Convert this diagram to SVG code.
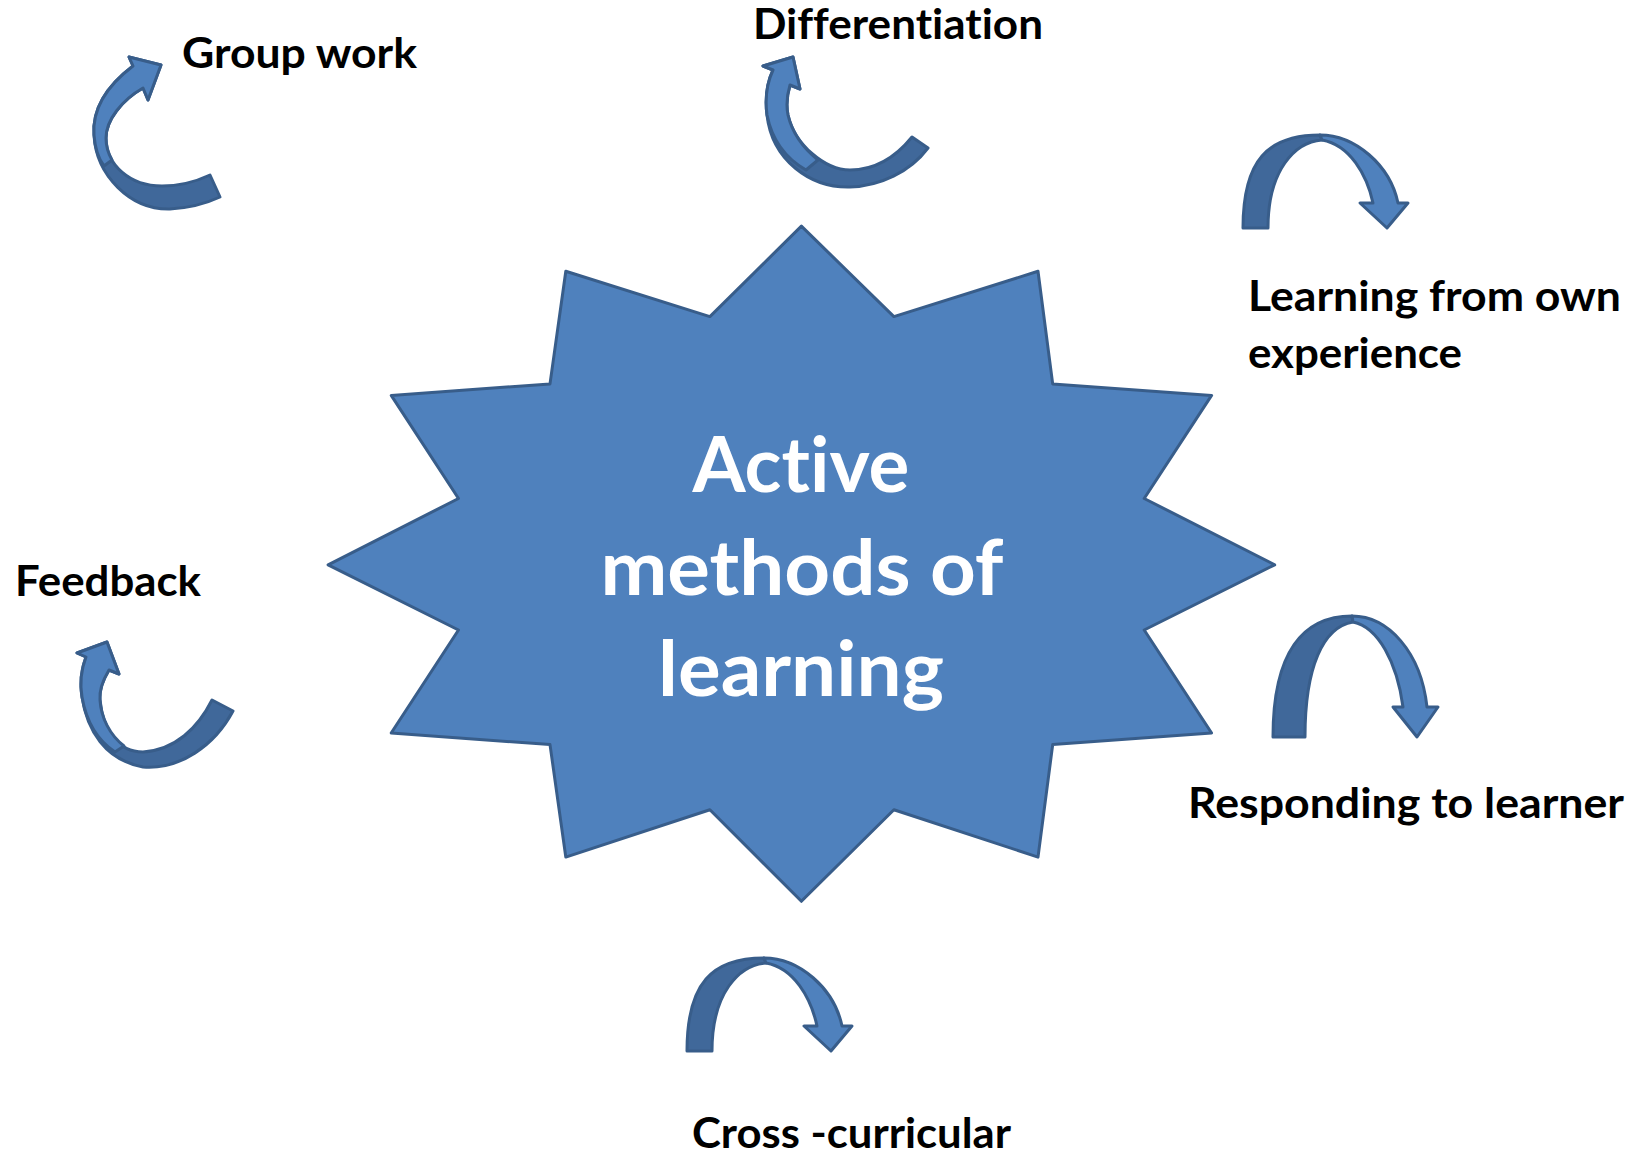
<svg xmlns="http://www.w3.org/2000/svg" width="1649" height="1156" viewBox="0 0 1649 1156">
<style>
.lbl{font-family:Lato,"Open Sans","Liberation Sans",sans-serif;font-weight:700;font-size:42px;fill:#000;font-variant-ligatures:none}
.ctr{font-family:Lato,"Open Sans","Liberation Sans",sans-serif;font-weight:700;font-size:76px;fill:#fff;text-anchor:middle;font-variant-ligatures:none}
.lt{fill:#4F81BD;stroke:#385D8A;stroke-width:3;stroke-linejoin:round}
.dk{fill:#40689A;stroke:#385D8A;stroke-width:3;stroke-linejoin:round}
</style>
<defs>
<g id="arch">
<path class="dk" d="M0,0 C0,-68 25,-93 77,-93 L79,-88 C52,-86 25,-58 25,0 Z"/>
<path class="lt" d="M77,-93 C112,-93 147,-63 155,-25 L165,-25 L144,0 L117,-25 L130,-25 C124,-53 107,-83 79,-88 Z"/>
</g>
</defs>
<g id="center">
<polygon class="lt" points="801.4,226.1 709.9,316.6 565.8,271.3 550,383.9 391.2,395.4 458.5,498.5 328.1,564.8 458.5,630 391.2,733 550,744.6 565.8,857.1 709.9,809.8 801.4,901.3 893.9,809.8 1038,857.1 1052.7,744.6 1211.6,733 1144.2,630 1274.7,564.8 1144.2,498.5 1211.6,395.4 1052.7,383.9 1038,271.3 893.9,316.6"/>
<text class="ctr" x="801" y="492" textLength="217" lengthAdjust="spacingAndGlyphs">Active</text>
<text class="ctr" x="802" y="595" textLength="403" lengthAdjust="spacingAndGlyphs">methods of</text>
<text class="ctr" x="801" y="696" textLength="286" lengthAdjust="spacingAndGlyphs">learning</text>
</g>
<g id="connectors">
<g id="arrow-group-work">
<path class="dk" d="M133,66 C108,85 92,108 94,135 C96,175 130,210 170,209 C190,208 205,204 220,197 L210,175 C195,182 178,186 162,186 C130,186 106,165 106,138 C106,120 122,100 143,88 L148,100 L161,65 L129,57 Z"/>
<path class="lt" d="M133,66 C108,85 92,108 94,135 C95,148 98,158 104,166 L112,160 C108,153 106,146 106,138 C106,120 122,100 143,88 L148,100 L161,65 L129,57 Z"/>
</g>
<g id="arrow-differentiation">
<path class="dk" d="M773,70 C766,85 765,100 767,115 C772,160 810,188 850,187 C880,186 910,172 928,148 L912,137 C895,158 875,170 850,170 C825,170 795,145 788,115 C786,105 787,95 790,85 L800,89 L793,57 L763,66 Z"/>
<path class="lt" d="M773,70 C766,85 765,100 767,115 C772,140 785,158 806,170 L818,160 C803,148 792,132 788,115 C786,105 787,95 790,85 L800,89 L793,57 L763,66 Z"/>
</g>
<g id="arrow-feedback">
<path class="dk" d="M86,657 C81,670 80,685 82,697 C87,730 105,760 143,767 C180,770 215,745 233,711 L212,700 C198,728 175,750 143,752 C118,752 103,730 100,700 C99,690 103,680 109,670 L119,674 L107,642 L77,653 Z"/>
<path class="lt" d="M86,657 C81,670 80,685 82,697 C86,720 97,740 115,752 L124,746 C110,735 101,718 100,700 C99,690 103,680 109,670 L119,674 L107,642 L77,653 Z"/>
</g>
<use id="arrow-learning" href="#arch" transform="translate(1243,228)"/>
<use id="arrow-cross" href="#arch" transform="translate(687,1051)"/>
<g id="arrow-responding" transform="translate(1273,737)">
<path class="dk" d="M0,0 C0,-85 30,-121 79,-121 L80,-115 C50,-110 32,-70 32,0 Z"/>
<path class="lt" d="M79,-121 C115,-121 148,-85 154,-30 L165,-30 L144,0 L120,-30 L130,-30 C124,-75 105,-110 80,-115 Z"/>
</g>
</g>
<g id="label-group-work"><text class="lbl" x="182" y="68" textLength="235" lengthAdjust="spacingAndGlyphs">Group work</text></g>
<g id="label-differentiation"><text class="lbl" x="753" y="39" textLength="290" lengthAdjust="spacingAndGlyphs">Differentiation</text></g>
<g id="label-learning"><text class="lbl" x="1248" y="311" textLength="373" lengthAdjust="spacingAndGlyphs">Learning from own</text><text class="lbl" x="1248" y="368" textLength="214" lengthAdjust="spacingAndGlyphs">experience</text></g>
<g id="label-feedback"><text class="lbl" x="15" y="596" textLength="186" lengthAdjust="spacingAndGlyphs">Feedback</text></g>
<g id="label-responding"><text class="lbl" x="1188" y="818" textLength="436" lengthAdjust="spacingAndGlyphs">Responding to learner</text></g>
<g id="label-cross"><text class="lbl" x="692" y="1148" textLength="319" lengthAdjust="spacingAndGlyphs">Cross -curricular</text></g>
</svg>
